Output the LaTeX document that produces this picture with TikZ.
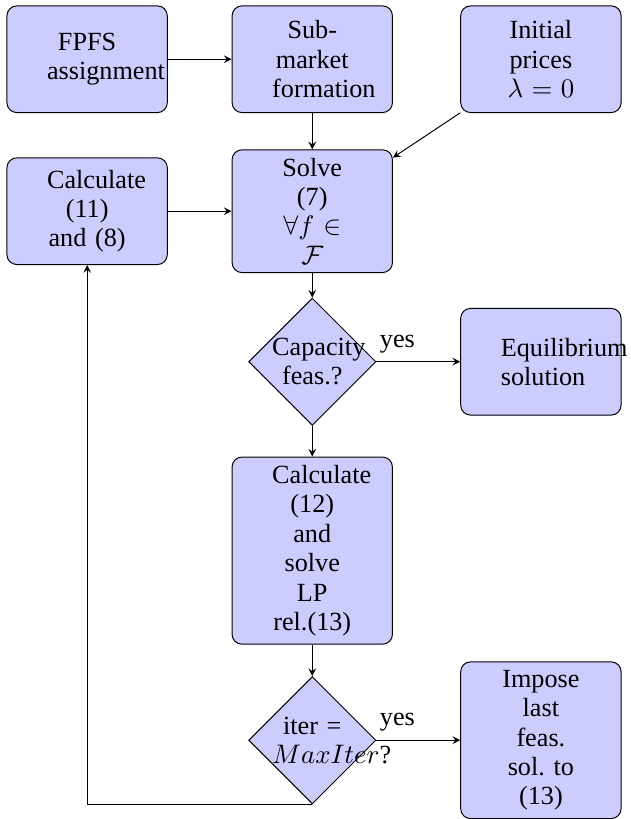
\documentclass[tikz,border=0pt]{standalone}
\usepackage{fontspec}
\setmainfont{Liberation Serif}
\usetikzlibrary{shapes.geometric}
\hyphenpenalty=10000
\exhyphenpenalty=10000

\begin{document}
\begin{tikzpicture}[
        > = stealth, % arrow head style
        font = \fontsize{10.7}{12}\selectfont,
        box/.style = {draw, rounded corners, fill=blue!20, text width=1.15cm,
          align=center, minimum width=2.3cm, minimum height=1.53cm},
        decision/.style = {draw, diamond, aspect=1, inner sep=0pt,
          fill=blue!20, text width=1.15cm, align=center}
        ]
  \useasboundingbox (0,0) rectangle (9.04,11.75);

  \node[box] (fpfs) at (1.25,10.9) {FPFS\\assignment};
  \node[box] (sub) at (4.48,10.9) {Sub-\\market\\formation};
  \node[box] (init) at (7.76,10.9) {Initial\\prices\\$\lambda=0$};
  \node[box] (calc1) at (1.25,8.72) {Calculate\\(11)\\and~(8)};
  \node[box] (solve) at (4.48,8.72) {Solve\\(7)\\$\forall f\in$\\$\mathcal{F}$};
  \node[decision] (cap) at (4.48,6.56) {Capacity\\feas.?};
  \node[box] (equil) at (7.76,6.56) {Equilibrium\\solution};
  \node[box] (calc2) at (4.48,3.85) {Calculate\\(12)\\and\\solve\\LP\\rel.(13)};
  \node[decision] (iter) at (4.48,1.13) {iter =\\$MaxIter$?};
  \node[box] (impose) at (7.76,1.13) {Impose\\last\\feas.\\sol.\ to\\(13)};

  \draw[->] (fpfs) -- (sub);
  \draw[->] (sub) -- (solve);
  \draw[->] (init) -- (solve);
  \draw[->] (calc1) -- (solve);
  \draw[->] (solve) -- (cap);
  \draw[->] (cap) -- node[near start, above] {yes} (equil);
  \draw[->] (cap) -- (calc2);
  \draw[->] (calc2) -- (iter);
  \draw[->] (iter) -- node[near start, above] {yes} (impose);
  \draw[->] (iter.south) -| (calc1.south);

\end{tikzpicture}
\end{document}
